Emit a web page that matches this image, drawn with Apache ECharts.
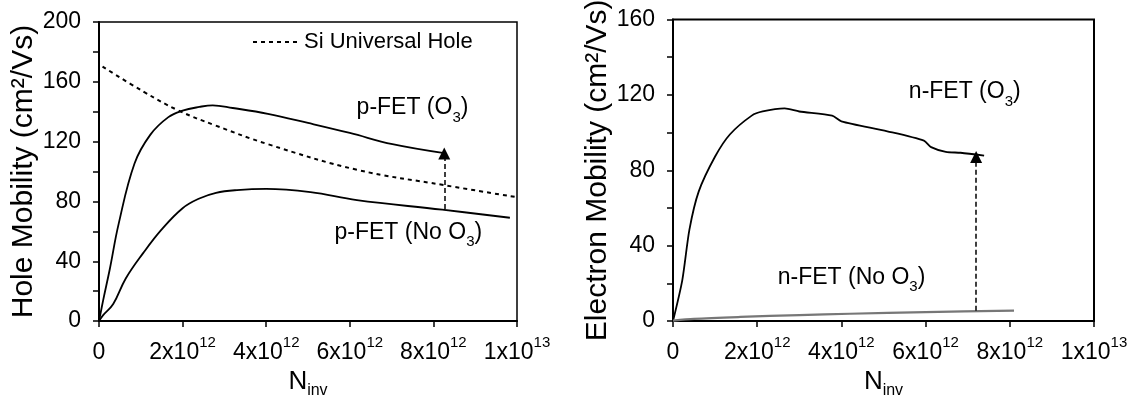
<!DOCTYPE html>
<html><head><meta charset="utf-8">
<script src="https://cdn.jsdelivr.net/npm/echarts@6/dist/echarts.min.js"></script>
<style>html,body{margin:0;padding:0;background:#fff}#c{width:1131px;height:404px}</style>
</head><body><div id="c"></div>
<script>
// ---- data (x: N_inv in cm^-2, y: mobility in cm^2/Vs) ----
const pO3X   = [0, 0.1e12, 0.26e12, 0.47e12, 0.85e12, 1.23e12, 1.66e12, 2.0e12, 2.4e12, 2.72e12, 3.2e12, 4.04e12, 5.0e12, 6.0e12, 7.02e12, 8.26e12];
const pO3Y   = [0, 14, 35, 65, 105.4, 124.7, 136.4, 140.7, 143.2, 144.3, 142.5, 138.6, 132.5, 125.8, 118.3, 112.3];
const pNoX   = [0, 0.1e12, 0.34e12, 0.64e12, 1.06e12, 1.49e12, 2.0e12, 2.4e12, 2.8e12, 3.3e12, 4.0e12, 5.06e12, 6.17e12, 8.21e12, 9.83e12];
const pNoY   = [0, 4, 11.4, 28.5, 45.6, 61, 75.5, 82, 85.8, 87.6, 88.4, 86.2, 80.9, 74.5, 69.1];
const siX    = [0.085e12, 1.06e12, 1.91e12, 2.77e12, 4.04e12, 6.17e12, 8.26e12, 9.96e12];
const siY    = [170.2, 153.5, 140.7, 131, 118.3, 101.2, 90.9, 83];
const nO3X   = [0, 0.22e12, 0.39e12, 0.61e12, 1.0e12, 1.35e12, 1.87e12, 2.13e12, 2.65e12, 3.0e12, 3.78e12, 4.0e12, 5.09e12, 5.96e12, 6.13e12, 6.48e12, 6.83e12, 7.39e12];
const nO3Y   = [0, 21.6, 48.5, 68.7, 87.3, 99, 109, 111.2, 112.8, 111.2, 109, 106, 100.7, 95.7, 92.3, 89.8, 89.3, 87.8];
const nNoX   = [0, 0.5e12, 1.6e12, 3.0e12, 4.2e12, 6.0e12, 8.1e12];
const nNoY   = [0.3, 1.2, 2.2, 3.2, 3.9, 4.8, 5.6];
// arrows [x, yFrom, yTo]
const holeArrow = [8.26e12, 75, 112];
const elecArrow = [7.2e12, 5.5, 87];
// annotations [x, y]
const lblPO3 = [7.5e12, 140.7], lblPNo = [7.4e12, 57.4];
const lblNO3 = [6.93e12, 120.1], lblNNo = [4.24e12, 21.7];
// tick labels
const xTickMant = ['0', '2', '4', '6', '8', '1'];
const xTickExp  = ['', '12', '12', '12', '12', '13'];

const zip = (a, b) => a.map((v, i) => [v, b[i]]);
const FONT = 'Liberation Sans, Arial, sans-serif';
const BLACK = '#000';

const xLabel = {
  fontFamily: FONT, color: BLACK, margin: 14,
  formatter: (v, i) => i === 0 ? '{b|0}' : '{b|' + xTickMant[i] + 'x10}{s|' + xTickExp[i] + '}',
  rich: {
    b: { fontSize: 23, fontFamily: FONT, color: BLACK, lineHeight: 29, verticalAlign: 'bottom' },
    s: { fontSize: 15, fontFamily: FONT, color: BLACK, lineHeight: 15, verticalAlign: 'top' }
  }
};
const xName = {
  name: '{n|N}{s|inv}', nameLocation: 'middle', nameGap: 34,
  nameTextStyle: {
    rich: {
      n: { fontSize: 26, fontFamily: FONT, color: BLACK, lineHeight: 30, verticalAlign: 'top' },
      s: { fontSize: 16, fontFamily: FONT, color: BLACK, lineHeight: 16, verticalAlign: 'bottom' }
    }
  }
};
function xAxis(grid) {
  return Object.assign({
    type: 'value', gridIndex: grid, min: 0, max: 1e13, interval: 2e12,
    axisLine: { show: true, onZero: false, lineStyle: { color: BLACK, width: 2 } },
    axisTick: { show: true, inside: false, length: 6, lineStyle: { color: BLACK, width: 1.5 } },
    splitLine: { show: false },
    axisLabel: xLabel
  }, xName);
}
function yAxis(grid, max, name) {
  return {
    type: 'value', gridIndex: grid, min: 0, max: max, interval: 40,
    name: name, nameLocation: 'middle', nameGap: 52,
    nameTextStyle: { fontSize: 30, fontFamily: FONT, color: BLACK },
    axisLine: { show: true, onZero: false, lineStyle: { color: BLACK, width: 2 } },
    axisTick: { show: true, inside: false, length: 6, lineStyle: { color: BLACK, width: 1.5 } },
    splitLine: { show: false },
    axisLabel: { fontSize: 23, fontFamily: FONT, color: BLACK, margin: 18 }
  };
}
function yInside(grid, max) {
  return {
    type: 'value', gridIndex: grid, min: 0, max: max, interval: 20,
    axisLine: { show: false },
    axisTick: { show: true, inside: true, length: 6, lineStyle: { color: BLACK, width: 1.5 } },
    splitLine: { show: false }, axisLabel: { show: false }
  };
}
const annRich = {
  t: { fontSize: 23, fontFamily: FONT, color: BLACK, lineHeight: 29, verticalAlign: 'top' },
  u: { fontSize: 15, fontFamily: FONT, color: BLACK, lineHeight: 15, verticalAlign: 'bottom' }
};
function ann(coord, before, sub, after) {
  return {
    coord: coord, symbolSize: 0,
    label: { show: true, position: 'inside', formatter: '{t|' + before + '}{u|' + sub + '}{t|' + after + '}', rich: annRich }
  };
}
function arrow(a) {
  return {
    silent: true, animation: false, symbol: ['none', 'triangle'], symbolSize: 12,
    label: { show: false },
    itemStyle: { color: BLACK },
    lineStyle: { color: BLACK, width: 1.5, type: [5, 3] },
    data: [[{ coord: [a[0], a[1]] }, { coord: [a[0], a[2]] }]]
  };
}
const solid = { color: BLACK, width: 1.8 };

const chart = echarts.init(document.getElementById('c'));
chart.setOption({
  animation: false,
  backgroundColor: '#fff',
  grid: [
    { left: 99, right: 614, top: 22, bottom: 69.5, show: true, borderColor: BLACK, borderWidth: 1.5 },
    { left: 673, right: 37, top: 19.5, bottom: 68, show: true, borderColor: BLACK, borderWidth: 2 }
  ],
  legend: {
    left: 252, top: 31, padding: 0, itemWidth: 46, itemHeight: 12, itemGap: 6,
    data: ['Si Universal Hole'],
    itemStyle: { opacity: 0 },
    textStyle: { fontSize: 22, fontFamily: FONT, color: BLACK }
  },
  xAxis: [xAxis(0), xAxis(1)],
  yAxis: [
    yAxis(0, 200, 'Hole Mobility (cm²/Vs)'), yInside(0, 200),
    yAxis(1, 160, 'Electron Mobility (cm²/Vs)'), yInside(1, 160)
  ],
  series: [
    { name: 'p-FET (O3)', type: 'line', xAxisIndex: 0, yAxisIndex: 0, data: zip(pO3X, pO3Y),
      smooth: 0.4, showSymbol: false, symbol: 'none', lineStyle: solid, itemStyle: { color: BLACK },
      markLine: arrow(holeArrow),
      markPoint: { silent: true, symbol: 'circle', data: [ann(lblPO3, 'p-FET (O', '3', ')')] } },
    { name: 'p-FET (No O3)', type: 'line', xAxisIndex: 0, yAxisIndex: 0, data: zip(pNoX, pNoY),
      smooth: 0.4, showSymbol: false, symbol: 'none', lineStyle: solid, itemStyle: { color: BLACK },
      markPoint: { silent: true, symbol: 'circle', data: [ann(lblPNo, 'p-FET (No O', '3', ')')] } },
    { name: 'Si Universal Hole', type: 'line', xAxisIndex: 0, yAxisIndex: 0, data: zip(siX, siY),
      smooth: 0.4, showSymbol: false, symbol: 'none',
      lineStyle: { color: BLACK, width: 2, type: [4, 4] }, itemStyle: { color: BLACK } },
    { name: 'n-FET (O3)', type: 'line', xAxisIndex: 1, yAxisIndex: 2, data: zip(nO3X, nO3Y),
      smooth: 0.25, showSymbol: false, symbol: 'none', lineStyle: solid, itemStyle: { color: BLACK },
      markLine: arrow(elecArrow),
      markPoint: { silent: true, symbol: 'circle', data: [ann(lblNO3, 'n-FET (O', '3', ')'), ann(lblNNo, 'n-FET (No O', '3', ')')] } },
    { name: 'n-FET (No O3)', type: 'line', xAxisIndex: 1, yAxisIndex: 2, data: zip(nNoX, nNoY),
      smooth: 0.3, showSymbol: false, symbol: 'none', lineStyle: { color: '#777', width: 2.2 }, itemStyle: { color: '#777' } }
  ]
});
</script></body></html>
